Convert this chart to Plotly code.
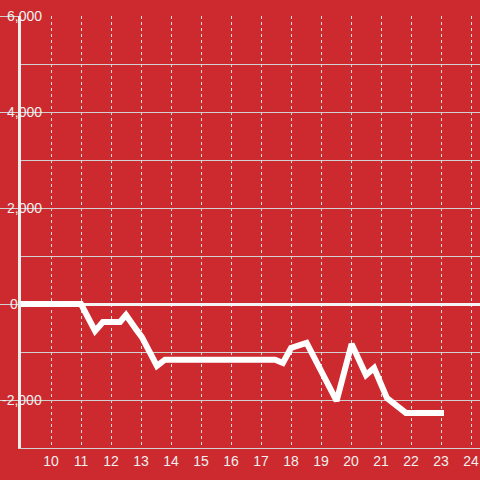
import plotly.graph_objects as go

# series
hours = [9, 11.0, 11.47, 11.73, 12.3, 12.5, 12.85, 13.03, 13.53, 13.8,
         17.47, 17.73, 18.0, 18.52, 19.52, 20.02, 20.5, 20.77, 21.2, 21.83, 23.1]
values = [0, 0, -560, -375, -375, -229, -540, -690, -1290, -1160,
          -1160, -1229, -917, -812, -2020, -833, -1480, -1333, -1960, -2270, -2270]

x_ticks = list(range(10, 25))
y_ticks = [6000, 4000, 2000, 0, -2000]
y_labels = ["6,000", "4,000", "2,000", "0", "-2,000"]

bg = "#cc2a2f"
txt = "#f0f0f0"

fig = go.Figure()
fig.add_trace(go.Scatter(x=hours, y=values, mode="lines", hoverinfo="skip",
                         line=dict(color="white", width=6), showlegend=False))

# y labels as annotations so they can sit over the tick lines
for v, lab in zip(y_ticks, y_labels):
    if lab == "0":
        fig.add_annotation(x=-13 / 459, y=v, xref="paper", yref="y", text=lab,
                           showarrow=False, xanchor="left", font=dict(color=txt, size=14))
    else:
        fig.add_annotation(x=23 / 459, y=v, xref="paper", yref="y", text=lab,
                           showarrow=False, xanchor="right", font=dict(color=txt, size=14))

fig.update_xaxes(range=[9, 24.3], tickvals=x_ticks, showgrid=True, automargin=False,
                 gridcolor="#dddddd", griddash="dot", gridwidth=1,
                 showline=True, linecolor="#d0d0d0", linewidth=1,
                 ticks="", tickfont=dict(color=txt, size=14), zeroline=False)
fig.update_yaxes(range=[-3000, 6000], tickvals=y_ticks, showticklabels=False, automargin=False,
                 showgrid=True, gridcolor="#d0d0d0", gridwidth=1,
                 ticks="outside", ticklen=21, tickcolor="#d0d0d0", tickwidth=1,
                 minor=dict(dtick=1000, showgrid=True, gridcolor="#d0d0d0", gridwidth=1),
                 zeroline=True, zerolinecolor="#f4f4f4", zerolinewidth=3,
                 showline=True, linecolor="#eeeeee", linewidth=3)

fig.update_layout(width=480, height=480, paper_bgcolor=bg, plot_bgcolor=bg,
                  margin=dict(l=21, r=0, t=16, b=32), hovermode=False,
                  font=dict(family="Liberation Sans, Arial, sans-serif"))

# drop the default page margin so the figure fills the window
fig.write_html("out.html", config={"displayModeBar": False},
               post_script="document.body.style.margin='0';document.body.style.overflow='hidden';")
